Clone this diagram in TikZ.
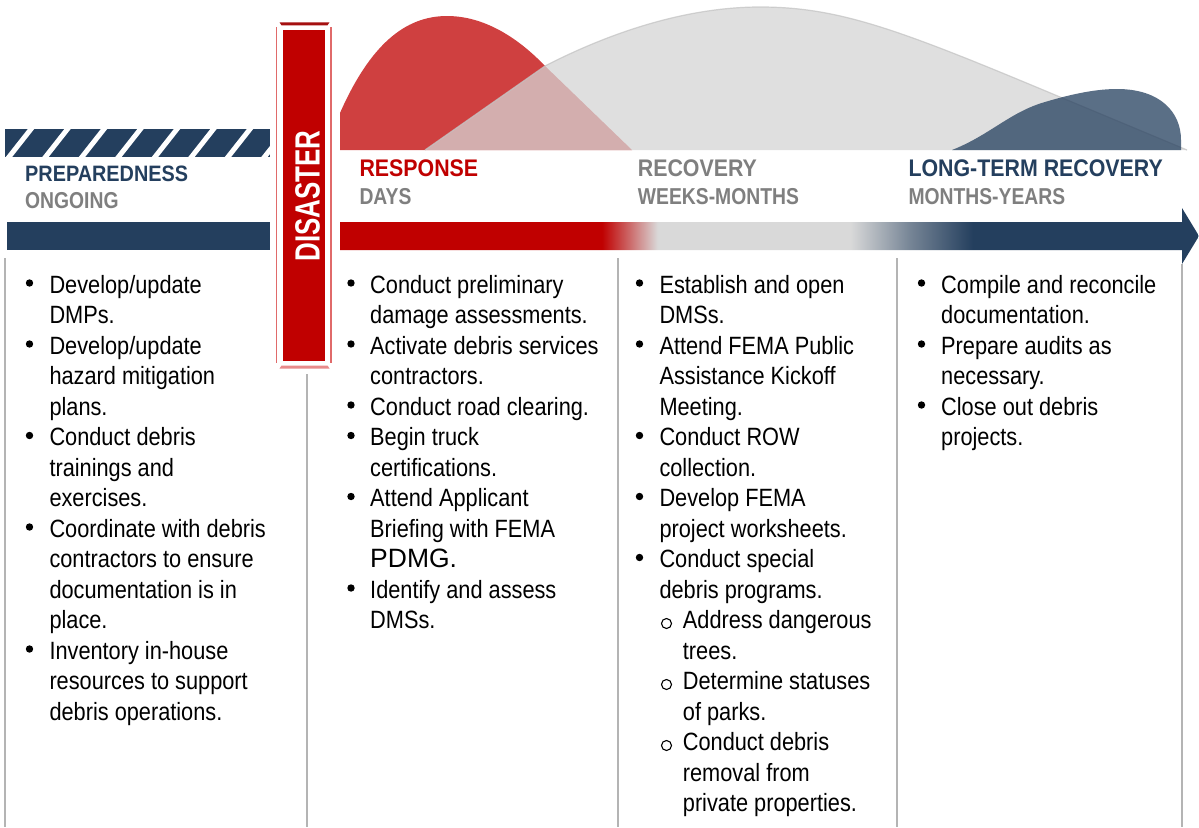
\documentclass[tikz,border=0pt]{standalone}
\usepackage{fontspec}
\setmainfont{Liberation Sans}
\newfontfamily\bodyf{Liberation Sans}[FakeStretch=0.87]
\newfontfamily\titlef{Liberation Sans}[FakeStretch=0.89]
\newfontfamily\subf{Liberation Sans}[FakeStretch=0.84]
\newfontfamily\disf{Liberation Sans}[FakeStretch=0.74]
\newfontfamily\plainf{Liberation Sans}

\definecolor{navy}{HTML}{243F5E}
\definecolor{tred}{HTML}{C00000}
\definecolor{tgray}{HTML}{7F7F7F}
\definecolor{barg}{HTML}{D9D9D9}
\definecolor{rulec}{HTML}{B4B4B4}
\definecolor{humpg}{HTML}{D5D5D5}
\definecolor{humpedge}{HTML}{C4C4C4}
\definecolor{framered}{HTML}{E06A6A}
\definecolor{capdark}{HTML}{A51010}
\definecolor{caplight}{HTML}{E88A8A}
\colorlet{fadered}{tred!50!barg}
\colorlet{fadenavy}{barg!45!navy}

% timeline bar colours: 25bp..75bp spans the bar from its tail to the arrow tip
\pgfdeclarehorizontalshading{timebar}{100bp}{%
  color(0bp)=(tred); color(40.25bp)=(tred); color(41.9bp)=(fadered);
  color(43.5bp)=(barg); color(54.7bp)=(barg); color(58.2bp)=(fadenavy);
  color(61.85bp)=(navy); color(100bp)=(navy)}

\tikzset{
  txt/.style={anchor=base west, inner sep=0pt, text=black,
    font=\bodyf\fontsize{25}{30.5}\selectfont},
  ttl/.style={anchor=base west, inner sep=0pt,
    font=\titlef\bfseries\fontsize{24}{24}\selectfont},
  subttl/.style={anchor=base west, inner sep=0pt, text=tgray,
    font=\subf\bfseries\fontsize{23}{23}\selectfont},
  dot/.style={circle, fill=black, inner sep=0pt, minimum size=7.4pt},
  ring/.style={circle, draw=black, line width=1.1pt, inner sep=0pt, minimum size=10pt},
  divider/.style={rulec, line width=2pt},
}

% one text line per node, lines 30.5 apart, first baseline at 293
\newcommand\columnlines[3]{%
  \foreach \t [count=\i from 0] in {#3}
    \node[txt] (#2-\i) at (#1,{293+30.5*\i}) {\t};}
\newcommand\bulletsat[3]{%
  \foreach \i in {#3}
    \node[dot] (#2-\i) at (#1,{283+30.5*\i}) {};}

\begin{document}
\begin{tikzpicture}[x=1pt, y=-1pt]
\useasboundingbox (0,0) rectangle (1199,827);
\fill[white] (0,0) rectangle (1199,827);

% ---- phase humps ----
\fill[tred, opacity=0.75] (340,150) -- (340,113)
  .. controls (370,45) and (405,16) .. (447,16)
  .. controls (490,16) and (525,45) .. (545,66) -- (632,150) -- cycle;
\fill[humpg, opacity=0.74] (425,150) -- (545,66)
  .. controls (615,30) and (690,7) .. (760,7)
  .. controls (840,7) and (900,30) .. (1060,97) -- (1187,150) -- cycle;
\draw[humpedge, line width=1.2pt, opacity=0.74] (425,150) -- (545,66)
  .. controls (615,30) and (690,7) .. (760,7)
  .. controls (840,7) and (900,30) .. (1060,97) -- (1187,150);
\fill[navy, opacity=0.75] (952,150)
  .. controls (990,135) and (1010,112) .. (1045,102)
  .. controls (1075,93) and (1098,89) .. (1117,89)
  .. controls (1160,89) and (1181,112) .. (1181,140) -- (1181,150) -- cycle;

% ---- preparedness bars ----
\begin{scope}
  \clip (5,129) rectangle (270,157.3);
  \fill[navy] (5,129) rectangle (270,157.3);
  \foreach \k in {-1,...,8}
    \draw[white, line width=5pt] ({20+36.5*\k-13},159.5) -- ({20+36.5*\k+13},126.5);
\end{scope}
\fill[navy] (6.5,222) rectangle (270,250);

% ---- timeline arrow ----
\shade[shading=timebar] (340,222) -- (1182,222) -- (1182,208) -- (1199,236)
  -- (1182,264) -- (1182,250) -- (340,250) -- cycle;

% ---- disaster column ----
\fill[capdark] (279.5,22.3) -- (329.5,22.3) -- (327.5,25.3) -- (281.5,25.3) -- cycle;
\draw[framered, line width=1.8pt] (276.5,27) -- (276.5,363);
\draw[framered, line width=1.8pt] (331.3,27) -- (331.3,363);
\node[fill=tred, inner sep=0pt, minimum width=42.3pt, minimum height=331pt]
  (disaster) at (303.85,195.5) {};
\node[rotate=90, inner sep=0pt, text=white,
  font=\disf\bfseries\fontsize{35}{35}\selectfont] (disasterlabel) at (307.5,196) {DISASTER};
\fill[caplight] (281.5,365.5) -- (327.5,365.5) -- (329.5,368.5) -- (279.5,368.5) -- cycle;

% ---- phase titles ----
\node[ttl, text=navy, font=\titlef\bfseries\fontsize{22.3}{22.3}\selectfont]
  (prep) at (25,181.7) {PREPAREDNESS};
\node[subttl] (prepsub) at (25,208.3) {ONGOING};
\node[ttl, text=tred] (resp) at (359.3,176.7) {RESPONSE};
\node[subttl] (respsub) at (359.3,204) {DAYS};
\node[ttl, text=tgray] (rec) at (637.7,176.7) {RECOVERY};
\node[subttl] (recsub) at (637.7,204) {WEEKS-MONTHS};
\node[ttl, text=navy] (ltr) at (908.3,176.7) {LONG-TERM RECOVERY};
\node[subttl] (ltrsub) at (908.3,204) {MONTHS-YEARS};

% ---- column dividers ----
\draw[divider] (4.8,258) -- (4.8,827);
\draw[divider] (306.8,374) -- (306.8,827);
\draw[divider] (618.3,258) -- (618.3,827);
\draw[divider] (896.7,258) -- (896.7,827);
\draw[divider] (1182.4,264) -- (1182.4,827);

% ---- task lists ----
\columnlines{49.3}{prepline}{Develop/update, DMPs., Develop/update, hazard mitigation,
  plans., Conduct debris, trainings and, exercises., Coordinate with debris,
  contractors to ensure, documentation is in, place., Inventory in-house,
  resources to support, debris operations.}
\bulletsat{29.5}{prepdot}{0,2,5,8,12}

\columnlines{370}{respline}{Conduct preliminary, damage assessments.,
  Activate debris services, contractors., Conduct road clearing., Begin truck,
  certifications., Attend Applicant, Briefing with FEMA,
  {\plainf\fontsize{26.5}{30.5}\selectfont PDMG.}, Identify and assess, DMSs.}
\bulletsat{351}{respdot}{0,2,4,5,7,10}

\columnlines{659.3}{recline}{Establish and open, DMSs., Attend FEMA Public,
  Assistance Kickoff, Meeting., Conduct ROW, collection., Develop FEMA,
  project worksheets., Conduct special, debris programs.}
\bulletsat{639.5}{recdot}{0,2,5,7,9}
\foreach \t [count=\i from 11] in {Address dangerous, trees., Determine statuses,
  of parks., Conduct debris, removal from, private properties.}
  \node[txt] (recsub-\i) at (682.7,{293+30.5*\i}) {\t};
\foreach \i in {11,13,15}
  \node[ring] (recring-\i) at (666.5,{288+30.5*\i}) {};

\columnlines{941}{ltrline}{Compile and reconcile, documentation.,
  Prepare audits as, necessary., Close out debris, projects.}
\bulletsat{921.5}{ltrdot}{0,2,4}
\end{tikzpicture}
\end{document}
